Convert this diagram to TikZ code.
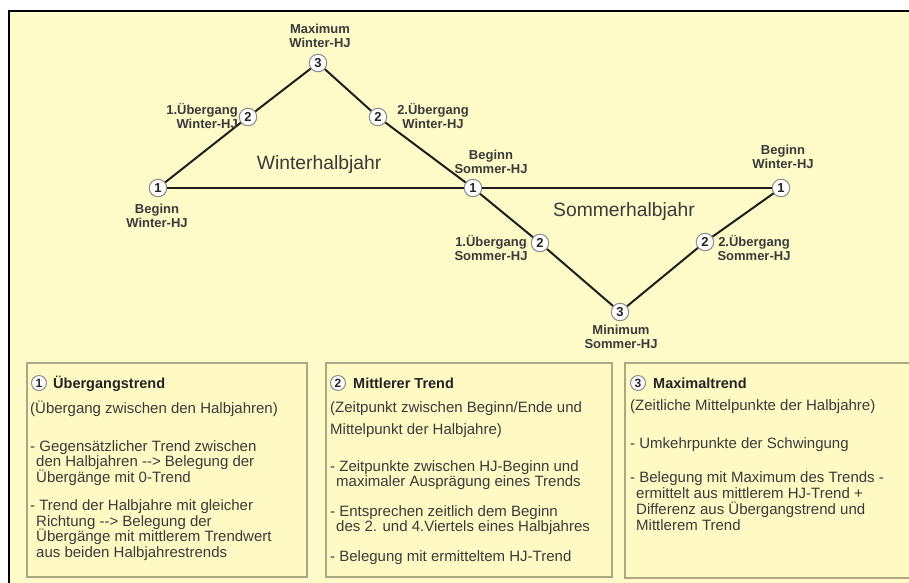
\documentclass[tikz,border=0pt]{standalone}
\usepackage{fontspec}
\setmainfont{Liberation Sans}
\definecolor{bgy}{RGB}{255,251,200}
\definecolor{boxy}{RGB}{255,250,196}
\definecolor{boxline}{RGB}{172,168,132}
\definecolor{txt}{RGB}{58,58,58}
\definecolor{ttl}{RGB}{35,35,35}
\definecolor{lin}{RGB}{30,30,30}
\definecolor{cedge}{RGB}{140,140,140}
\begin{document}
\begin{tikzpicture}[x=1pt,y=-1pt,
  numc/.style={circle,fill=white,draw=cedge,line width=1pt,inner sep=0pt,minimum size=17.5pt,
    font=\fontsize{13}{13}\selectfont\bfseries,text=ttl},
  smallnum/.style={numc,minimum size=15pt,font=\fontsize{12}{12}\selectfont\bfseries},
  lab/.style={align=center,font=\fontsize{13}{14}\selectfont\bfseries,text=txt,inner sep=0pt},
  half/.style={font=\fontsize{19.3}{22}\selectfont,text=txt,inner sep=0pt},
  trend/.style={line width=2pt,draw=lin},
  panel/.style={draw=boxline,fill=boxy,line width=1.2pt},
  ptitle/.style={anchor=base west,inner sep=0pt,font=\fontsize{14.5}{16}\selectfont\bfseries,text=ttl},
  ptext/.style={anchor=base west,inner sep=0pt,font=\fontsize{15}{16}\selectfont,text=txt}]
\useasboundingbox (0,0) rectangle (909,582);
\fill[white] (0,0) rectangle (909,582);
\fill[bgy] (8.5,10.5) rectangle (915,590);
\draw[line width=2pt,black] (8.5,590) -- (8.5,10.5) -- (915,10.5);

% diagram points
\node[numc] (w1) at (158,188) {1};
\node[numc] (w2a) at (248,117) {2};
\node[numc] (w3) at (318,63) {3};
\node[numc] (w2b) at (378,117) {2};
\node[numc] (s1) at (473,188) {1};
\node[numc] (s2a) at (540,243) {2};
\node[numc] (s3) at (620,312) {3};
\node[numc] (s2b) at (705,242) {2};
\node[numc] (e1) at (781,188) {1};

\draw[trend] (w1) -- (w2a) -- (w3) -- (w2b) -- (s1);
\draw[trend] (w1) -- (s1) -- (e1);
\draw[trend] (s1) -- (s2a) -- (s3) -- (s2b) -- (e1);

% labels
\node[lab] (lmax) at (320,36) {Maximum\\Winter-HJ};
\node[lab,align=right,anchor=east] (lw2a) at (238,116) {1.Übergang\\Winter-HJ};
\node[lab] (lw2b) at (433,116) {2.Übergang\\Winter-HJ};
\node[lab] (lw1) at (157,216) {Beginn\\Winter-HJ};
\node[lab] (ls1) at (491,162) {Beginn\\Sommer-HJ};
\node[lab] (le1) at (783,156.5) {Beginn\\Winter-HJ};
\node[lab] (ls2a) at (491,248.5) {1.Übergang\\Sommer-HJ};
\node[lab] (ls2b) at (754,248.5) {2.Übergang\\Sommer-HJ};
\node[lab] (lmin) at (621,337) {Minimum\\Sommer-HJ};
\node[half] (winter) at (319,165) {Winterhalbjahr};
\node[half] (sommer) at (624,212) {Sommerhalbjahr};

% panels
\draw[panel] (27,363) rectangle (307,577);
\draw[panel] (326,363) rectangle (612,577);
\draw[panel] (625,363) rectangle (915,578);

% panel 1
\node[smallnum] (c1) at (39,383) {1};
\node[ptitle] (t1) at (53,388) {Übergangstrend};
\node[ptext] (p1a) at (30,413) {(Übergang zwischen den Halbjahren)};
\node[ptext] (p1b) at (30,451) {- Gegensätzlicher Trend zwischen};
\node[ptext] (p1c) at (36,466.5) {den Halbjahren {-}{-}> Belegung der};
\node[ptext] (p1d) at (36,482) {Übergänge mit 0-Trend};
\node[ptext] (p1e) at (30,510.5) {- Trend der Halbjahre mit gleicher};
\node[ptext] (p1f) at (36,526) {Richtung {-}{-}> Belegung der};
\node[ptext] (p1g) at (36,541.5) {Übergänge mit mittlerem Trendwert};
\node[ptext] (p1h) at (36,557) {aus beiden Halbjahrestrends};

% panel 2
\node[smallnum] (c2) at (338,383) {2};
\node[ptitle] (t2) at (353,388) {Mittlerer Trend};
\node[ptext] (p2a) at (330,412) {(Zeitpunkt zwischen Beginn/Ende und};
\node[ptext] (p2b) at (330,434) {Mittelpunkt der Halbjahre)};
\node[ptext] (p2c) at (330,471) {- Zeitpunkte zwischen HJ-Beginn und};
\node[ptext] (p2d) at (336,486.5) {maximaler Ausprägung eines Trends};
\node[ptext] (p2e) at (330,516) {- Entsprechen zeitlich dem Beginn};
\node[ptext] (p2f) at (336,531.5) {des 2. und 4.Viertels eines Halbjahres};
\node[ptext] (p2g) at (330,561) {- Belegung mit ermitteltem HJ-Trend};

% panel 3
\node[smallnum] (c3) at (638,383) {3};
\node[ptitle] (t3) at (653,388) {Maximaltrend};
\node[ptext] (p3a) at (630,410) {(Zeitliche Mittelpunkte der Halbjahre)};
\node[ptext] (p3b) at (630,448) {- Umkehrpunkte der Schwingung};
\node[ptext] (p3c) at (630,482) {- Belegung mit Maximum des Trends -};
\node[ptext] (p3d) at (636,498) {ermittelt aus mittlerem HJ-Trend +};
\node[ptext] (p3e) at (636,514) {Differenz aus Übergangstrend und};
\node[ptext] (p3f) at (636,530) {Mittlerem Trend};
\end{tikzpicture}
\end{document}
